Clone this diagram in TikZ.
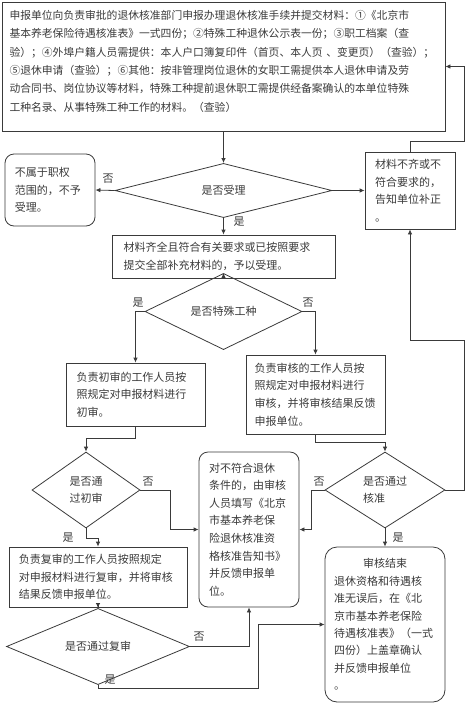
\documentclass[tikz,border=0pt]{standalone}
\usepackage{fontspec}
\setmainfont{Noto Sans CJK SC}
\usetikzlibrary{shapes.geometric,arrows.meta}
\definecolor{ink}{HTML}{3A3A3A}
\tikzset{
	box/.style={draw=ink, line width=0.8pt, rectangle, align=left, inner sep=0pt,
		text=ink, font=\fontsize{11}{17.6}\selectfont},
	rbox/.style={box, rounded corners=9pt},
	decision/.style={draw=ink, line width=0.8pt, diamond, inner sep=0pt, align=left,
		text=ink, font=\fontsize{11}{17.6}\selectfont},
	flow/.style={draw=ink, line width=0.8pt, -{Latex[length=5pt,width=4.5pt]}},
	tag/.style={text=ink, font=\fontsize{11}{13}\selectfont, inner sep=0pt}
}
\begin{document}
\begin{tikzpicture}[x=1pt,y=-1pt]
	\useasboundingbox (0,0) rectangle (466,705);
	
	% Application
	\node[box, minimum width=443, minimum height=129, text width=428,
		font=\fontsize{10.8}{18.4}\selectfont] (apply) at (223.5,66.5)
		{申报单位向负责审批的退休核准部门申报办理退休核准手续并提交材料：①《北京市\\
		基本养老保险待遇核准表》一式四份；②特殊工种退休公示表一份；③职工档案（查\\
		验）；④外埠户籍人员需提供：本人户口簿复印件（首页、本人页 、变更页）（查验）；\\
		⑤退休申请（查验）；⑥其他：按非管理岗位退休的女职工需提供本人退休申请及劳\\
		动合同书、岗位协议等材料，特殊工种提前退休职工需提供经备案确认的本单位特殊\\
		工种名录、从事特殊工种工作的材料。（查验）\\[-7pt]\mbox{}};
	
	% First check
	\node[decision, minimum width=217, minimum height=43] (accepted) at (223.5,190.5) {是否受理};
	\node[rbox, minimum width=90, minimum height=72, text width=70] (reject) at (50,190)
		{不属于职权\\范围的，不予\\受理。};
	\node[box, minimum width=90, minimum height=77, text width=70] (amend) at (410,190.5)
		{材料不齐或不\\符合要求的，\\告知单位补正\\。};
	\node[box, minimum width=223, minimum height=43, text width=200] (take) at (223.5,256.5)
		{材料齐全且符合有关要求或已按照要求\\提交全部补充材料的，予以受理。};
	
	% Special work type
	\node[decision, minimum width=157, minimum height=43] (special) at (223.5,311.5) {是否特殊工种};
	\node[box, minimum width=139, minimum height=63, text width=118] (first) at (135.5,394.5)
		{负责初审的工作人员按\\照规定对申报材料进行\\初审。};
	\node[box, minimum width=139, minimum height=79, text width=122] (audit) at (315.5,394.5)
		{负责审核的工作人员按\\照规定对申报材料进行\\审核，并将审核结果反馈\\申报单位。};
	
	% Reviews
	\node[decision, minimum width=108, minimum height=76] (passfirst) at (86,490) {是否通\\过初审};
	\node[decision, minimum width=120, minimum height=76] (passaudit) at (385,490) {是否通过\\核准};
	\node[rbox, minimum width=100, minimum height=155, text width=80] (refuse) at (249,529.5)
		{对不符合退休\\条件的，由审核\\人员填写《北京\\市基本养老保\\险退休核准资\\格核准告知书》\\并反馈申报单\\位。};
	\node[box, minimum width=178, minimum height=60, text width=158] (second) at (98,577)
		{负责复审的工作人员按照规定\\对申报材料进行复审，并将审核\\结果反馈申报单位。};
	\node[decision, minimum width=183, minimum height=43] (passsecond) at (98,646.5) {是否通过复审};
	\node[rbox, rounded corners=12pt, minimum width=120, minimum height=155, text width=102,
		font=\fontsize{11}{17.4}\selectfont] (finish) at (385,624.5)
		{\makebox[102pt]{审核结束}\\退休资格和待遇核\\准无误后，在《北\\京市基本养老保险\\待遇核准表》（一式\\四份）上盖章确认\\并反馈申报单位\\。};
	
	% Corners of the long connectors
	\coordinate (back) at (464,141);
	\coordinate (loop) at (464.5,340);
	\coordinate (low) at (258,688);
	
	% Connectors
	\draw[flow] (apply) -- (accepted);
	\draw[flow] (accepted.west) -- (reject.east);
	\draw[flow] (accepted.east) -- (amend.west);
	\draw[flow] (accepted.south) -- (take.north);
	\draw[flow] (amend.north) |- (back) |- (apply.east);
	\draw[flow] (take.south) -- (special.north);
	\draw[flow] (special.west) -| (first.north);
	\draw[flow] (special.east) -| (audit.north);
	\draw[flow] (first.south) -- ++(0,12) -| (passfirst.north);
	\draw[flow] (audit.south) -- ++(0,8) -| (passaudit.north);
	\draw[flow] (passfirst.east) -- ++(30,0) |- (refuse.west);
	\draw[flow] (passaudit.west) -- ++(-13,0) |- (refuse.east);
	\draw[flow] (passaudit.east) -| (loop) -| (amend.south);
	\draw[flow] (passaudit.south) -- (finish.north);
	\draw[flow] (passfirst.south) -- ++(0,10) -| (second.north);
	\draw[flow] (second.south) -- (passsecond.north);
	\draw[flow] (passsecond.east) -| (refuse.south);
	\draw[flow] (passsecond.south) |- (low) |- (finish.west);
	
	% Yes / no labels
	\node[tag] (n1) at (108,179) {否};
	\node[tag] (y1) at (239,222) {是};
	\node[tag] (y2) at (138,303) {是};
	\node[tag] (n2) at (308,303) {否};
	\node[tag] (n3) at (148,482) {否};
	\node[tag] (n4) at (319,482) {否};
	\node[tag] (y3) at (68,538) {是};
	\node[tag] (y4) at (398,538) {是};
	\node[tag] (n5) at (199,637) {否};
	\node[tag] (y5) at (110,680) {是};
\end{tikzpicture}
\end{document}
